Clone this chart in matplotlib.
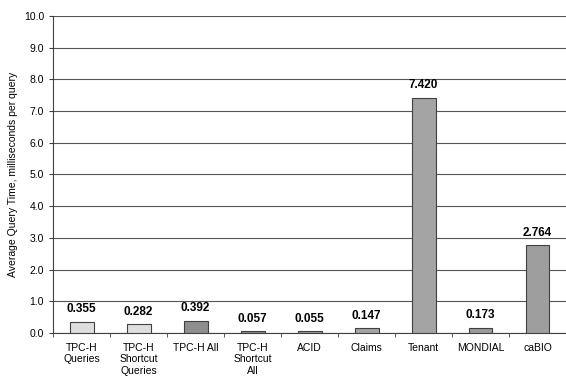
import matplotlib.pyplot as plt
import numpy as np

plt.rcParams['font.family'] = ['Liberation Sans', 'DejaVu Sans']

labels = ["TPC-H\nQueries", "TPC-H\nShortcut\nQueries", "TPC-H All", "TPC-H\nShortcut\nAll",
          "ACID", "Claims", "Tenant", "MONDIAL", "caBIO"]
values = [0.355, 0.282, 0.392, 0.057, 0.055, 0.147, 7.420, 0.173, 2.764]
colors = ["#dedede", "#dedede", "#8e8e8e", "#8e8e8e", "#9a9a9a", "#a4a4a4", "#a4a4a4", "#9a9a9a", "#9e9e9e"]

fig = plt.figure(figsize=(5.66, 3.78), dpi=100)
ax = fig.add_axes([0.094, 0.119, 0.906, 0.839])

x = np.arange(len(values))
ax.bar(x, values, width=0.42, color=colors, edgecolor="#404040", linewidth=0.8, zorder=3)
for xi, v in zip(x, values):
    ax.text(xi, v + 0.2, "%.3f" % v, ha="center", va="bottom", fontsize=8.5, fontweight="bold")

ax.set_xlim(-0.5, len(values) - 0.5)
ax.set_ylim(0, 10)
ax.set_yticks(np.arange(0, 10.1, 1.0))
ax.set_yticklabels(["%.1f" % t for t in np.arange(0, 10.1, 1.0)], fontsize=7.5)
ax.yaxis.grid(True, color="#555555", linewidth=0.8, zorder=0)
ax.set_xticks(x)
ax.set_xticklabels(labels, fontsize=7.5)
ax.set_xticks(np.arange(-0.5, len(values), 1.0), minor=True)
ax.tick_params(axis="x", which="major", length=0, pad=7)
ax.tick_params(axis="x", which="minor", length=3, color="#404040")
ax.tick_params(axis="y", length=3, color="#404040")
for s in ["top", "right"]:
    ax.spines[s].set_visible(False)
ax.spines["left"].set_color("#404040")
ax.spines["bottom"].set_color("#404040")
ax.set_ylabel("Average Query Time, milliseconds per query", fontsize=7.5)

fig.savefig("out.png", dpi=100)
